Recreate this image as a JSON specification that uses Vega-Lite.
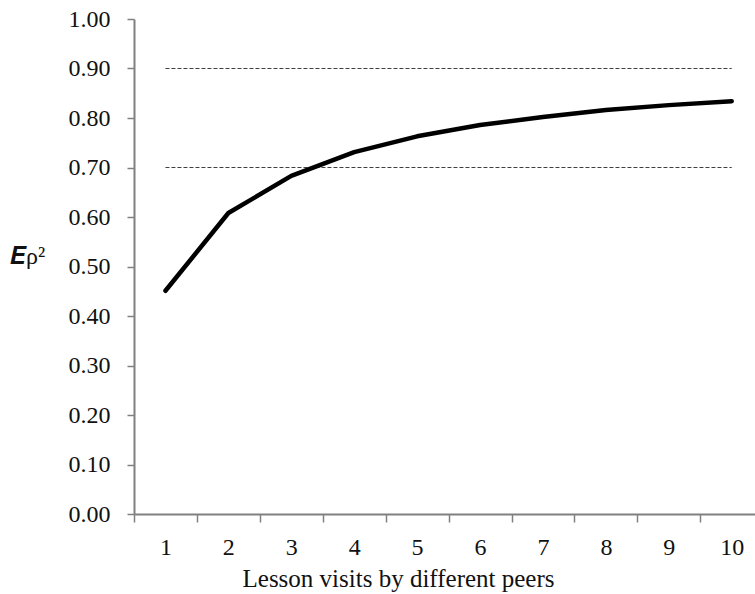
{
  "$schema": "https://vega.github.io/schema/vega-lite/v6.json",
  "width": 621,
  "height": 495,
  "autosize": "none",
  "padding": {"left": 134, "top": 19, "right": 0, "bottom": 80},
  "background": "white",
  "config": {"view": {"stroke": null}, "font": "Liberation Serif", "axis": {"labelFont": "Liberation Serif", "titleFont": "Liberation Serif"}},
  "datasets": {
    "curve": [
      {"n": 1, "rho": 0.451},
      {"n": 2, "rho": 0.608},
      {"n": 3, "rho": 0.683},
      {"n": 4, "rho": 0.731},
      {"n": 5, "rho": 0.763},
      {"n": 6, "rho": 0.786},
      {"n": 7, "rho": 0.802},
      {"n": 8, "rho": 0.816},
      {"n": 9, "rho": 0.826},
      {"n": 10, "rho": 0.834}
    ],
    "refs": [{"rho": 0.7}, {"rho": 0.9}]
  },
  "layer": [
    {
      "data": {"name": "refs"},
      "mark": {"type": "rule", "color": "#404040", "strokeWidth": 1, "strokeDash": [4, 2]},
      "encoding": {
        "x": {"datum": 1, "type": "quantitative"},
        "x2": {"datum": 10},
        "y": {"field": "rho", "type": "quantitative"}
      }
    },
    {
      "data": {"name": "curve"},
      "mark": {"type": "line", "color": "black", "strokeWidth": 4.5, "strokeCap": "round", "strokeJoin": "round"},
      "encoding": {
        "x": {
          "field": "n",
          "type": "quantitative",
          "scale": {"domain": [0.5, 10.37], "nice": false, "zero": false},
          "axis": {
            "values": [0.5, 1.5, 2.5, 3.5, 4.5, 5.5, 6.5, 7.5, 8.5, 9.5],
            "labelExpr": "format(datum.value + 0.5, 'd')",
            "labelOffset": 31.45,
            "labelFlush": false,
            "labelOverlap": false,
            "grid": false,
            "domainColor": "#808080",
            "domainWidth": 2,
            "tickColor": "#808080",
            "tickWidth": 1.5,
            "tickSize": 8,
            "labelFont": "Liberation Serif",
            "labelFontSize": 24,
            "labelBaseline": "alphabetic",
            "labelPadding": 32,
            "labelColor": "#111111",
            "title": "Lesson visits by different peers",
            "titleFont": "Liberation Serif",
            "titleFontSize": 25,
            "titleFontWeight": "normal",
            "titleColor": "#111111",
            "titleX": 264,
            "titleY": 72,
            "titleAlign": "center",
            "titleBaseline": "alphabetic"
          }
        },
        "y": {
          "field": "rho",
          "type": "quantitative",
          "scale": {"domain": [0, 1], "nice": false},
          "axis": {
            "values": [0, 0.1, 0.2, 0.3, 0.4, 0.5, 0.6, 0.7, 0.8, 0.9, 1.0],
            "format": ".2f",
            "grid": false,
            "domainColor": "#808080",
            "domainWidth": 2,
            "tickColor": "#808080",
            "tickWidth": 1.5,
            "tickSize": 7,
            "labelFont": "Liberation Serif",
            "labelFontSize": 24,
            "labelPadding": 17,
            "labelColor": "#111111",
            "title": "𝑬ρ²",
            "titleFont": "Liberation Serif, DejaVu Serif",
            "titleFontSize": 24,
            "titleFontWeight": "normal",
            "titleColor": "#111111",
            "titleAngle": 0,
            "titleX": -107,
            "titleY": 244,
            "titleAlign": "center",
            "titleBaseline": "alphabetic"
          }
        }
      }
    }
  ]
}
